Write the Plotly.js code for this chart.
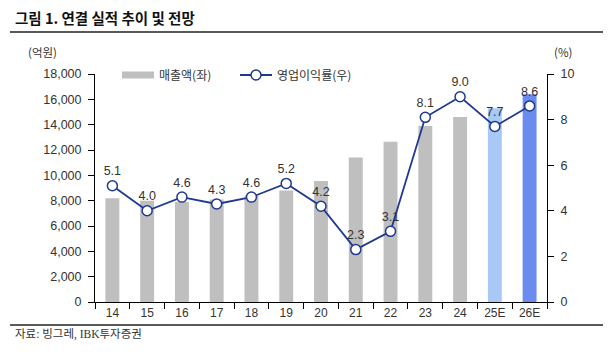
<!DOCTYPE html>
<html><head><meta charset="utf-8">
<script src="https://cdn.plot.ly/plotly-3.0.1.min.js"></script>
<style>html,body{margin:0;padding:0;background:#fff}#chart{width:615px;height:360px}</style>
</head><body><div id="chart"></div>
<script>
const categories = ['14','15','16','17','18','19','20','21','22','23','24','25E','26E'];
const sales = [8200, 8000, 7900, 8100, 8400, 8800, 9550, 11400, 12650, 13900, 14600, 15300, 16400];
const opMargin = [5.1, 4.0, 4.6, 4.3, 4.6, 5.2, 4.2, 2.3, 3.1, 8.1, 9.0, 7.7, 8.6];
const barColors = ['#bfbfbf','#bfbfbf','#bfbfbf','#bfbfbf','#bfbfbf','#bfbfbf','#bfbfbf','#bfbfbf','#bfbfbf','#bfbfbf','#bfbfbf','#a8c8f6','#6a8cf0'];
const yLeftTicks = [0,2000,4000,6000,8000,10000,12000,14000,16000,18000];
const yRightTicks = [0,2,4,6,8,10];

const F = '"Liberation Sans", Arial, "Noto Sans CJK KR", sans-serif';
const K = '"Noto Sans CJK KR", "Liberation Sans", sans-serif';
const S = '"Liberation Serif", "Noto Sans CJK KR", serif';
const navy = '#1f3890';

const traces = [
  {type:'bar', x:categories, y:sales, marker:{color:barColors}, width:0.4, showlegend:false, hoverinfo:'skip'},
  {type:'scatter', mode:'lines', x:[null], y:[null], name:'매출액(좌)', line:{color:'#bfbfbf', width:7}, showlegend:true},
  {type:'scatter', mode:'lines+markers+text', x:categories, y:opMargin, yaxis:'y2', name:'영업이익률(우)',
   line:{color:navy, width:1.8}, marker:{size:10, color:'#fff', line:{color:navy, width:1.5}},
   text:opMargin.map(v=>v.toFixed(1)), textposition:'top center', textfont:{family:F, size:12.5, color:'#333'}, cliponaxis:false}
];

const P = (px)=> (px-95)/452, Q = (py)=> (302-py)/228;

const layout = {
  width:615, height:360,
  margin:{l:95, r:68, t:74, b:58},
  paper_bgcolor:'#fff', plot_bgcolor:'#fff',
  font:{family:F, size:12, color:'#333'},
  bargap:0.6,
  xaxis:{type:'category', range:[-0.5,12.5], showline:true, linecolor:'#000', linewidth:1, ticks:'outside', tickson:'boundaries',
         ticklen:6, tickcolor:'#000', showgrid:false, zeroline:false, tickfont:{family:F, size:12, color:'#333'}},
  yaxis:{range:[0,18000], tickvals:yLeftTicks, ticktext:yLeftTicks.map(v=>v.toLocaleString('en-US')), showline:true, linecolor:'#000',
         ticks:'outside', ticklen:6, tickcolor:'#000', showgrid:false, zeroline:false, tickfont:{family:F, size:12.5, color:'#333'}, ticklabelstandoff:4},
  yaxis2:{range:[0,10], overlaying:'y', side:'right', tickvals:yRightTicks, showline:true, linecolor:'#000',
          ticks:'outside', ticklen:6, tickcolor:'#000', showgrid:false, zeroline:false, tickfont:{family:F, size:12.5, color:'#333'}, ticklabelstandoff:4},
  legend:{orientation:'h', x:P(117), y:Q(75), xanchor:'left', yanchor:'middle', bgcolor:'rgba(0,0,0,0)',
          font:{family:K, size:12, color:'#333'}, itemwidth:32, entrywidth:71, entrywidthmode:'pixels', tracegroupgap:0},
  shapes:[
    {type:'line', xref:'paper', yref:'paper', x0:P(10), x1:P(603), y0:Q(32), y1:Q(32), line:{color:'#222', width:1.3}},
    {type:'line', xref:'paper', yref:'paper', x0:P(10), x1:P(603), y0:Q(325), y1:Q(325), line:{color:'#222', width:1.3}}
  ],
  annotations:[
    {xref:'paper', yref:'paper', x:P(13), y:Q(18), xanchor:'left', yanchor:'middle', showarrow:false,
     text:'<b>그림 1. 연결 실적 추이 및 전망</b>', font:{family:K, size:14.5, color:'#111'}},
    {xref:'paper', yref:'paper', x:P(42), y:Q(52), xanchor:'center', yanchor:'middle', showarrow:false,
     text:'(억원)', font:{family:K, size:11.5, color:'#333'}},
    {xref:'paper', yref:'paper', x:P(563), y:Q(52), xanchor:'center', yanchor:'middle', showarrow:false,
     text:'(%)', font:{family:K, size:11.5, color:'#333'}},
    {xref:'paper', yref:'paper', x:P(13), y:Q(334), xanchor:'left', yanchor:'middle', showarrow:false,
     text:'자료: 빙그레, IBK투자증권', font:{family:S, size:11.5, color:'#333'}}
  ]
};
Plotly.newPlot('chart', traces, layout, {displayModeBar:false, staticPlot:true});
</script></body></html>
